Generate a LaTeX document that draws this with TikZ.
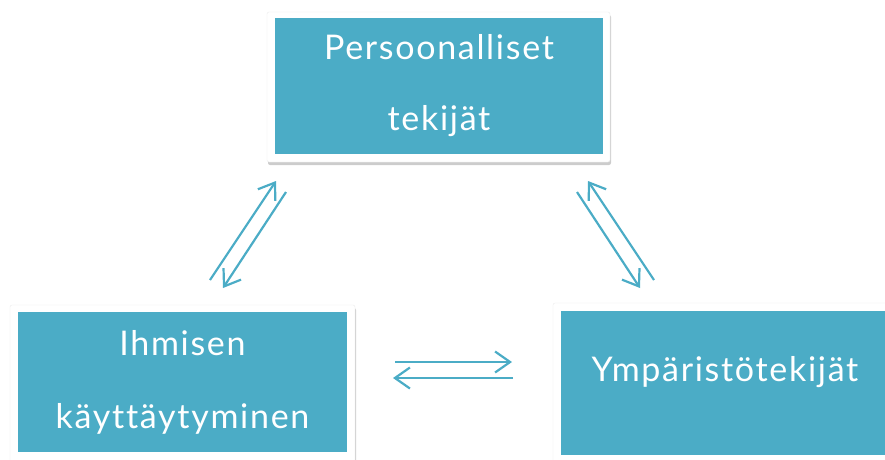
\documentclass[tikz,border=0pt]{standalone}
\usepackage{fontspec}
\setmainfont{Lato}[LetterSpace=5,Ligatures=NoCommon]
\usetikzlibrary{arrows.meta,shadows}
\definecolor{teal1}{HTML}{4BACC6}
\tikzset{
  frame/.style={draw=black!8, line width=0.4pt, fill=white, rounded corners=2pt,
    drop shadow={opacity=0.4, shadow xshift=1pt, shadow yshift=-3pt}},
  inbox/.style={fill=teal1, draw=none, text=white, align=center,
    font=\fontsize{34}{71}\selectfont, inner sep=0pt},
  conn/.style={draw=teal1, line width=2.2pt,
    -{Straight Barb[length=15pt,width=21pt,line width=2.2pt]}}
}
\begin{document}
\begin{tikzpicture}[x=1pt,y=-1pt]
\useasboundingbox (0,0) rectangle (885,459);
\clip (0,0) rectangle (885,459);
% top box
\node[frame, minimum width=343pt, minimum height=150pt] (pf) at (438.5,87) {};
\node[inbox, minimum width=328pt, minimum height=136pt] (pers) at (439,86) {Persoonalliset\\tekijät};
% left box
\node[frame, minimum width=345pt, minimum height=160pt] (lf) at (182.5,385) {};
\node[inbox, minimum width=329pt, minimum height=140pt, font=\fontsize{34}{73}\selectfont] (ihm) at (182.5,382) {Ihmisen\\käyttäytyminen};
% right box
\node[frame, minimum width=347pt, minimum height=162pt] (rf) at (726.5,384) {};
\node[fill=teal1, minimum width=332pt, minimum height=144pt, inner sep=0pt] (ymp) at (727,383) {};
\node[text=white, font=\fontsize{34}{40}\selectfont, inner sep=0pt] (ymptext) at (725,372) {Ympäristötekijät};
% arrow end points
\coordinate (a1s) at (210,280); \coordinate (a1e) at (276,181);
\coordinate (a2s) at (286,192); \coordinate (a2e) at (223,288);
\coordinate (b1s) at (654,280); \coordinate (b1e) at (588,181);
\coordinate (b2s) at (577,192); \coordinate (b2e) at (640,288);
\coordinate (c1s) at (395,362); \coordinate (c1e) at (512,362);
\coordinate (c2s) at (513,378); \coordinate (c2e) at (393,378);
\draw[conn] (a1s) -- (a1e);
\draw[conn] (a2s) -- (a2e);
\draw[conn] (b1s) -- (b1e);
\draw[conn] (b2s) -- (b2e);
\draw[conn] (c1s) -- (c1e);
\draw[conn] (c2s) -- (c2e);
\end{tikzpicture}
\end{document}
